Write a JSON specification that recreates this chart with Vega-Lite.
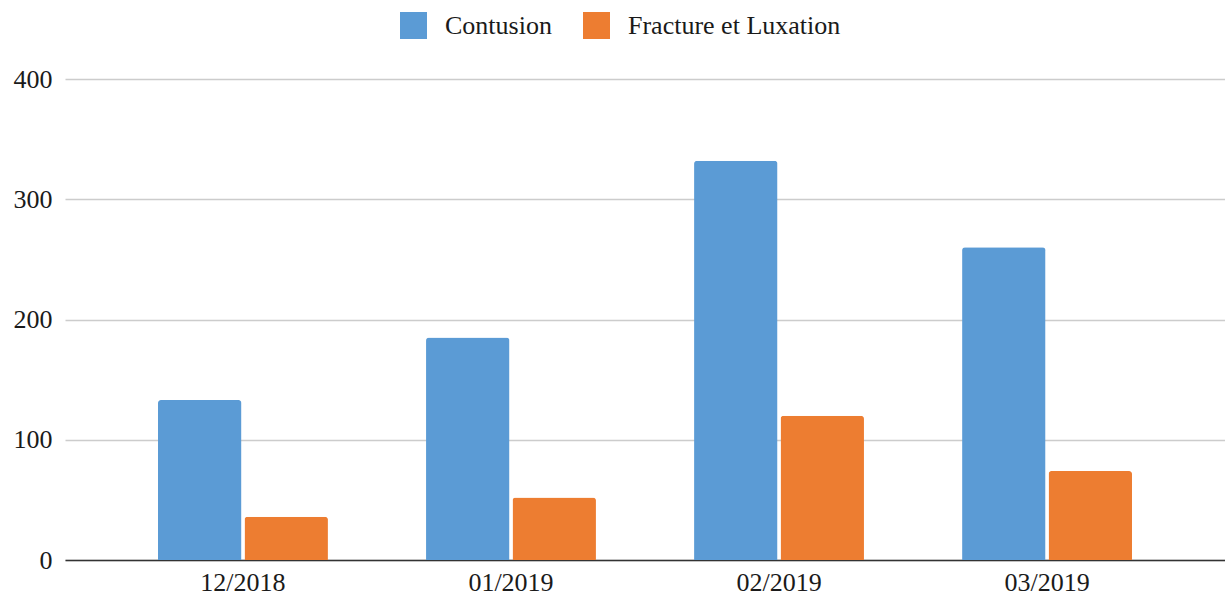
{
  "$schema": "https://vega.github.io/schema/vega-lite/v6.json",
  "width": 1160,
  "height": 481,
  "autosize": {"type": "none"},
  "padding": {"left": 65, "top": 79, "right": 0, "bottom": 39},
  "config": {
    "font": "Liberation Serif",
    "view": {"stroke": null},
    "background": "white"
  },
  "data": {
    "values": [
      {"mois": "12/2018", "type": "Contusion", "valeur": 133},
      {"mois": "12/2018", "type": "Fracture et Luxation", "valeur": 36},
      {"mois": "01/2019", "type": "Contusion", "valeur": 185},
      {"mois": "01/2019", "type": "Fracture et Luxation", "valeur": 52},
      {"mois": "02/2019", "type": "Contusion", "valeur": 332},
      {"mois": "02/2019", "type": "Fracture et Luxation", "valeur": 120},
      {"mois": "03/2019", "type": "Contusion", "valeur": 260},
      {"mois": "03/2019", "type": "Fracture et Luxation", "valeur": 74}
    ]
  },
  "mark": {"type": "bar", "cornerRadiusTopLeft": 3, "cornerRadiusTopRight": 3},
  "encoding": {
    "x": {
      "field": "mois",
      "type": "nominal",
      "sort": null,
      "title": null,
      "scale": {"paddingInner": 0.366, "paddingOuter": 0.347},
      "axis": {
        "labelAngle": 0,
        "labelFontSize": 26,
        "labelColor": "#1a1a1a",
        "labelPadding": 9,
        "ticks": false,
        "domainColor": "#333",
        "domainWidth": 1.5,
        "grid": false
      }
    },
    "xOffset": {
      "field": "type",
      "type": "nominal",
      "scale": {"paddingInner": 0.035, "paddingOuter": 0}
    },
    "y": {
      "field": "valeur",
      "type": "quantitative",
      "title": null,
      "scale": {"domain": [0, 400]},
      "axis": {
        "values": [0, 100, 200, 300, 400],
        "labelFontSize": 26,
        "labelColor": "#1a1a1a",
        "labelPadding": 13,
        "ticks": false,
        "domain": false,
        "gridColor": "#cccccc",
        "gridWidth": 1.5
      }
    },
    "color": {
      "field": "type",
      "type": "nominal",
      "title": null,
      "scale": {"domain": ["Contusion", "Fracture et Luxation"], "range": ["#5B9BD5", "#ED7D31"]},
      "legend": {
        "orient": "none",
        "legendX": 335,
        "legendY": -67,
        "direction": "horizontal",
        "symbolType": "square",
        "symbolSize": 729,
        "symbolStrokeWidth": 0,
        "labelFontSize": 26,
        "labelColor": "#1a1a1a",
        "labelOffset": 18,
        "labelLimit": 0,
        "columnPadding": 31
      }
    }
  }
}
